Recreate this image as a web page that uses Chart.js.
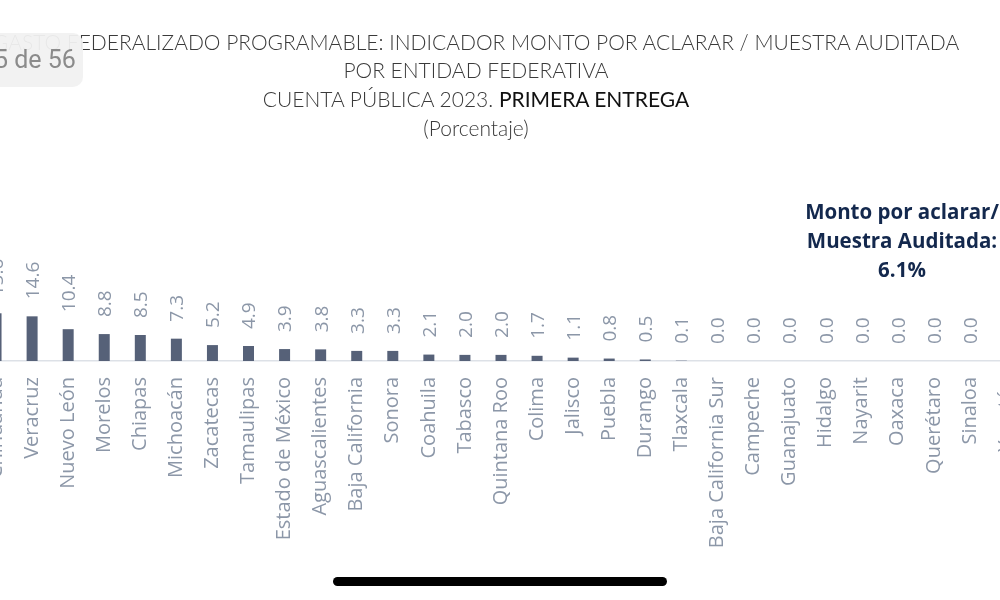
<!DOCTYPE html>
<html>
<head>
<meta charset="utf-8">
<script src="https://cdn.jsdelivr.net/npm/chart.js@4.4.1/dist/chart.umd.min.js"></script>
<style>
  html, body { margin: 0; padding: 0; background: #fff; }
  body { width: 1000px; height: 600px; position: relative; overflow: hidden; font-family: 'Open Sans', sans-serif; }
  #chartBox { position: absolute; left: -22px; top: 0; width: 1046px; height: 600px; }
  .title { position: absolute; left: 476px; transform: translateX(-50%); white-space: nowrap;
           font-family: Lato, 'Open Sans', sans-serif; font-weight: 300; font-size: 21px; color: #3a3a3a; line-height: 29px; }
  .title b { font-weight: 400; color: #111; }
  .note { position: absolute; left: 902px; top: 197px; transform: translateX(-50%); white-space: nowrap; text-align: center;
          font-weight: 700; font-size: 20.5px; line-height: 29px; color: #13284d; }
  .pager { position: absolute; left: -20px; top: 33px; width: 103px; height: 54px; border-radius: 10px;
           background: rgba(241,241,241,0.95); color: #8b8b8b; font-family: Roboto, sans-serif; font-size: 25px;
           line-height: 54px; text-indent: 14px; }
  .home { position: absolute; left: 333px; top: 577px; width: 334px; height: 9px; border-radius: 5px; background: #000; }
</style>
</head>
<body>
<div id="chartBox"><canvas id="chart" width="1046" height="600"></canvas></div>

<div class="title" style="top:27px">GASTO FEDERALIZADO PROGRAMABLE: INDICADOR MONTO POR ACLARAR / MUESTRA AUDITADA</div>
<div class="title" style="top:55px">POR ENTIDAD FEDERATIVA</div>
<div class="title" style="top:84px">CUENTA PÚBLICA 2023. <b>PRIMERA ENTREGA</b></div>
<div class="title" style="top:113px">(Porcentaje)</div>

<div class="note">Monto por aclarar/<br>Muestra Auditada:<br>6.1%</div>

<div class="pager">5 de 56</div>
<div class="home"></div>

<script>
// entidades federativas, ordenadas de mayor a menor
var estados = ['Chihuahua', 'Veracruz', 'Nuevo León', 'Morelos', 'Chiapas', 'Michoacán', 'Zacatecas',
  'Tamaulipas', 'Estado de México', 'Aguascalientes', 'Baja California', 'Sonora', 'Coahuila', 'Tabasco',
  'Quintana Roo', 'Colima', 'Jalisco', 'Puebla', 'Durango', 'Tlaxcala', 'Baja California Sur', 'Campeche',
  'Guanajuato', 'Hidalgo', 'Nayarit', 'Oaxaca', 'Querétaro', 'Sinaloa', 'Yucatán'];

// monto por aclarar / muestra auditada (%)
var porcentaje = [15.6, 14.6, 10.4, 8.8, 8.5, 7.3, 5.2, 4.9, 3.9, 3.8, 3.3, 3.3, 2.1, 2.0, 2.0, 1.7, 1.1,
  0.8, 0.5, 0.1, 0.0, 0.0, 0.0, 0.0, 0.0, 0.0, 0.0, 0.0, 0.0];

var grisTexto = '#8c97a8';

// etiquetas verticales sobre cada barra
var etiquetas = {
  id: 'etiquetas',
  afterDatasetsDraw: function(chart) {
    var ctx = chart.ctx;
    var meta = chart.getDatasetMeta(0);
    ctx.save();
    ctx.font = '19px "Open Sans"';
    ctx.fillStyle = grisTexto;
    ctx.textAlign = 'left';
    ctx.textBaseline = 'middle';
    meta.data.forEach(function(bar, i) {
      ctx.save();
      ctx.translate(bar.x + 1.5, bar.y - 17);
      ctx.rotate(-Math.PI / 2);
      ctx.fillText(porcentaje[i].toFixed(1), 0, 0);
      ctx.restore();
    });
    ctx.restore();
  }
};

var config = {
  type: 'bar',
  data: {
    labels: estados,
    datasets: [{
      data: porcentaje,
      backgroundColor: '#566178',
      barThickness: 11,
      inflateAmount: 0
    }]
  },
  options: {
    responsive: false,
    animation: false,
    layout: { padding: 0 },
    plugins: {
      legend: { display: false },
      title: { display: false },
      tooltip: { enabled: false }
    },
    scales: {
      x: {
        grid: { display: false, drawTicks: false },
        border: { display: true, color: '#dde1e7', width: 1.5 },
        ticks: {
          autoSkip: false,
          minRotation: 90,
          maxRotation: 90,
          padding: 16,
          color: grisTexto,
          font: { family: 'Open Sans', size: 20 }
        },
        afterFit: function(scale) {
          scale.height = 239;
          scale.paddingLeft = 0;
          scale.paddingRight = 0;
        }
      },
      y: {
        display: false,
        min: 0,
        max: 118
      }
    }
  },
  plugins: [etiquetas]
};

window.onload = function() {
  var ctx = document.getElementById('chart').getContext('2d');
  window.myBar = new Chart(ctx, config);
};
</script>
</body>
</html>
